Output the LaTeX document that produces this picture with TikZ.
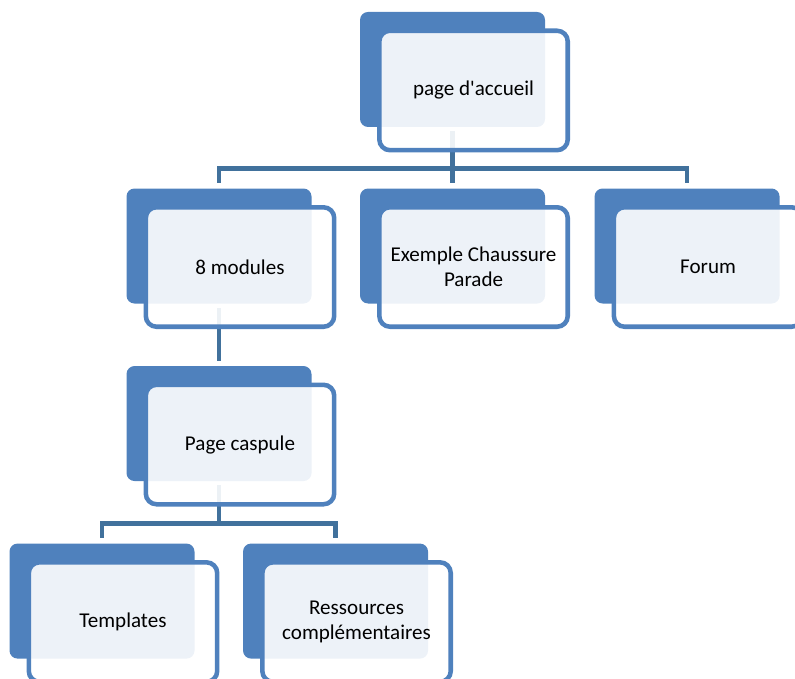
\documentclass[tikz,border=0pt]{standalone}
\usepackage{fontspec}
\setmainfont{Carlito}
\usetikzlibrary{positioning}
\definecolor{accblue}{HTML}{4F81BD}
\definecolor{lineblue}{HTML}{41719C}
\tikzstyle{bbox}=[rectangle, rounded corners=6pt, fill=accblue,
                  minimum width=138.75pt, minimum height=86.25pt, inner sep=0pt]
\tikzstyle{tbox}=[rectangle, rounded corners=8pt, draw=accblue, line width=3.4pt,
                  fill=white, fill opacity=0.9, text opacity=1,
                  minimum width=141.3pt, minimum height=89.6pt, inner sep=2pt,
                  align=center, xshift=15.75pt, yshift=-15.75pt,
                  font=\fontsize{15.8}{18.5}\selectfont]
\tikzstyle{pline}=[-, line width=3.6pt, draw=lineblue, shorten <=3pt, shorten >=3.75pt]
\begin{document}
\begin{tikzpicture}
\useasboundingbox (0,0) rectangle (596.25pt,-508.5pt);
\clip (0,0) rectangle (596.25pt,-508.5pt);

% back boxes
\node (ACC) [bbox] at (339.4pt,-52.1pt) {};
\node (EXCH) [bbox, below=45.75pt of ACC] {};
\node (MOD) [bbox, left=36pt of EXCH] {};
\node (FORUM) [bbox, right=36.75pt of EXCH] {};
\node (CASP) [bbox, below=46.5pt of MOD] {};
\node (TMPL) [bbox, below=46.5pt of CASP, xshift=-87.75pt] {};
\node (RESS) [bbox, right=36pt of TMPL] {};

% connectors
 \draw[pline] (ACC.south) -- ++(0,-30.75pt) -| (MOD.north);
 \draw[pline] (ACC.south) -- (EXCH.north);
 \draw[pline] (ACC.south) -- ++(0,-30.75pt) -| (FORUM.north);
 \draw[pline] (MOD.south) -- (CASP.north);
 \draw[pline] (CASP.south) -- ++(0,-31.5pt) -| (TMPL.north);
 \draw[pline] (CASP.south) -- ++(0,-31.5pt) -| (RESS.north);

% text boxes
\node (ACCT) [tbox] at (ACC) {page d\textquotesingle accueil};
\node (MODT) [tbox] at (MOD) {8 modules};
\node (EXCHT) [tbox] at (EXCH) {Exemple Chaussure\\Parade};
\node (FORUMT) [tbox] at (FORUM) {Forum};
\node (CASPT) [tbox] at (CASP) {Page caspule};
\node (TMPLT) [tbox] at (TMPL) {Templates};
\node (RESST) [tbox] at (RESS) {Ressources\\compl\'ementaires};

\end{tikzpicture}
\end{document}
